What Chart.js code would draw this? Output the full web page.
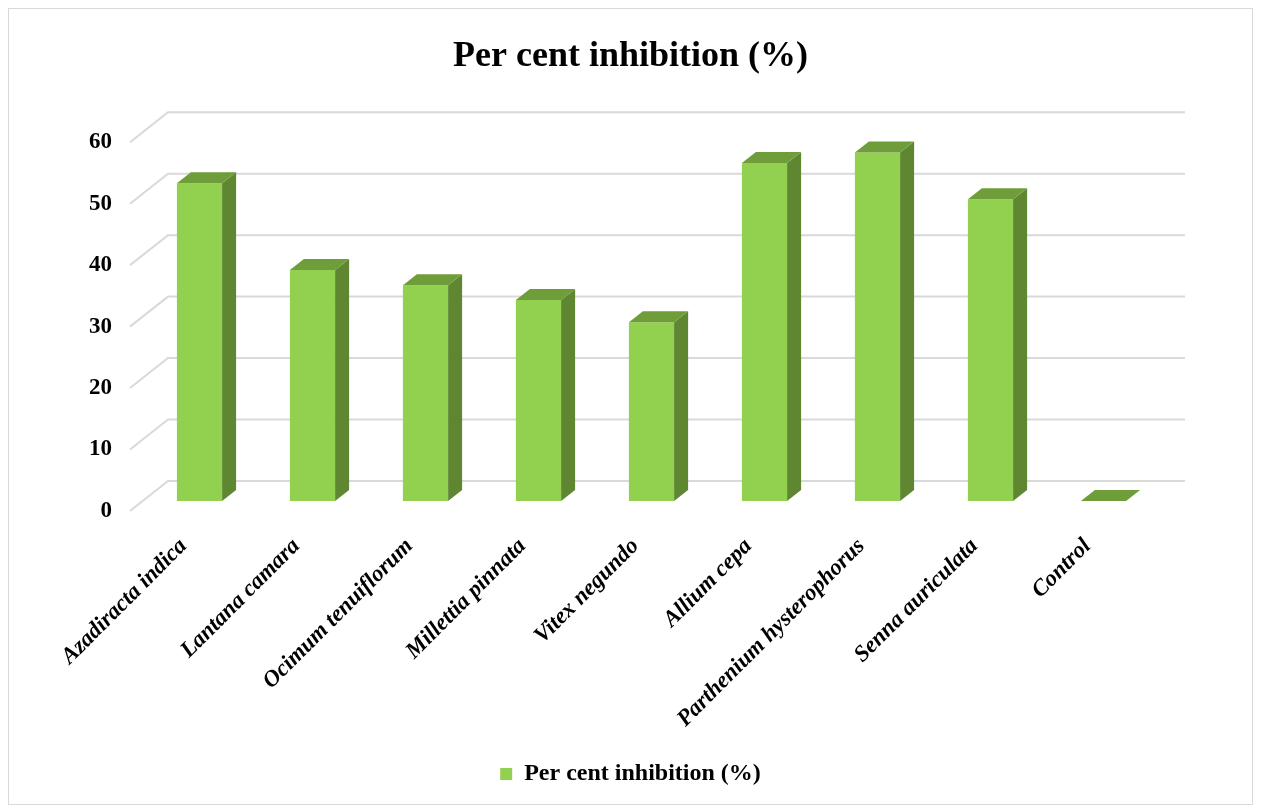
<!DOCTYPE html>
<html>
<head>
<meta charset="utf-8">
<script src="https://cdn.jsdelivr.net/npm/chart.js@4.4.1/dist/chart.umd.min.js"></script>
<style>
  html, body { margin: 0; padding: 0; background: #fff; }
  #wrap { width: 1261px; height: 810px; }
</style>
</head>
<body>
<div id="wrap"><canvas id="inhibChart" width="1261" height="810"></canvas></div>
<script>
// data
const categories = ['Azadiracta indica', 'Lantana camara', 'Ocimum tenuiflorum', 'Millettia pinnata',
  'Vitex negundo', 'Allium cepa', 'Parthenium hysterophorus', 'Senna auriculata', 'Control'];
const inhibition = [51.7, 37.6, 35.1, 32.7, 29.1, 55.0, 56.7, 49.1, 0];
const yTicks = [0, 10, 20, 30, 40, 50, 60];

const serif = '"Liberation Serif", "Times New Roman", serif';
const frontColor = '#92D050';
const sideColor = '#5F8732';
const topColor = '#6E9D3A';

// fake 3D: floor depth and bar depth offsets
const floorDx = 38, floorDy = -30;
const barShiftX = 13, barShiftY = -10;
const barDx = 14, barDy = -11;

const fake3d = {
  id: 'fake3d',
  beforeDraw(chart) {
    const c = chart.ctx;
    c.save();
    c.strokeStyle = '#D9D9D9';
    c.lineWidth = 1;
    c.strokeRect(8.5, 8.5, 1244, 796);
    c.restore();
  },
  beforeDatasetsDraw(chart) {
    const c = chart.ctx;
    const area = chart.chartArea;
    const y = chart.scales.y;
    c.save();
    c.strokeStyle = '#D9D9D9';
    c.lineWidth = 2;
    yTicks.forEach(v => {
      const py = y.getPixelForValue(v);
      c.beginPath();
      c.moveTo(area.left, py);
      c.lineTo(area.left + floorDx, py + floorDy);
      c.lineTo(area.right + floorDx, py + floorDy);
      c.stroke();
    });
    c.restore();
    c.save();
    c.translate(barShiftX, barShiftY);
  },
  afterDatasetsDraw(chart) {
    const c = chart.ctx;
    const meta = chart.getDatasetMeta(0);
    meta.data.forEach(bar => {
      const half = bar.width / 2;
      const l = bar.x - half, r = bar.x + half;
      const t = bar.y, b = bar.base;
      // side face
      c.fillStyle = sideColor;
      c.beginPath();
      c.moveTo(r, t);
      c.lineTo(r + barDx, t + barDy);
      c.lineTo(r + barDx, b + barDy);
      c.lineTo(r, b);
      c.closePath();
      c.fill();
      // top face
      c.fillStyle = topColor;
      c.beginPath();
      c.moveTo(l, t);
      c.lineTo(r, t);
      c.lineTo(r + barDx, t + barDy);
      c.lineTo(l + barDx, t + barDy);
      c.closePath();
      c.fill();
    });
    c.restore();
  }
};

const ctx = document.getElementById('inhibChart').getContext('2d');
new Chart(ctx, {
  type: 'bar',
  data: {
    labels: categories,
    datasets: [{
      label: 'Per cent inhibition (%)',
      data: inhibition,
      backgroundColor: frontColor,
      borderWidth: 0,
      categoryPercentage: 1,
      barPercentage: 0.4
    }]
  },
  options: {
    responsive: false,
    animation: false,
    events: [],
    layout: { padding: { left: 0, right: 0, top: 10, bottom: 14 } },
    plugins: {
      title: {
        display: true,
        text: 'Per cent inhibition (%)',
        color: '#000',
        font: { family: serif, size: 36, weight: 'bold' },
        padding: { top: 25, bottom: 64 }
      },
      legend: {
        position: 'bottom',
        labels: {
          color: '#000',
          font: { family: serif, size: 24, weight: 'bold' },
          boxWidth: 12,
          boxHeight: 12,
          padding: 8
        }
      },
      tooltip: { enabled: false }
    },
    scales: {
      x: {
        grid: { display: false },
        border: { display: false },
        ticks: {
          color: '#000',
          font: { family: serif, size: 23, weight: 'bold', style: 'italic' },
          minRotation: 45,
          maxRotation: 45,
          labelOffset: -3,
          padding: 14,
          autoSkip: false
        },
        afterFit(scale) { scale.height = 243; }
      },
      y: {
        min: yTicks[0],
        max: yTicks[yTicks.length - 1],
        grid: { display: false },
        border: { display: false },
        ticks: {
          stepSize: 10,
          color: '#000',
          font: { family: serif, size: 23, weight: 'bold' },
          padding: 10
        },
        afterFit(scale) { scale.width = 130; }
      },
      // empty axis that only reserves the space right of the plot
      yRight: {
        position: 'right',
        grid: { display: false },
        border: { display: false },
        ticks: { display: false },
        afterFit(scale) { scale.width = 114; }
      }
    }
  },
  plugins: [fake3d]
});
</script>
</body>
</html>
